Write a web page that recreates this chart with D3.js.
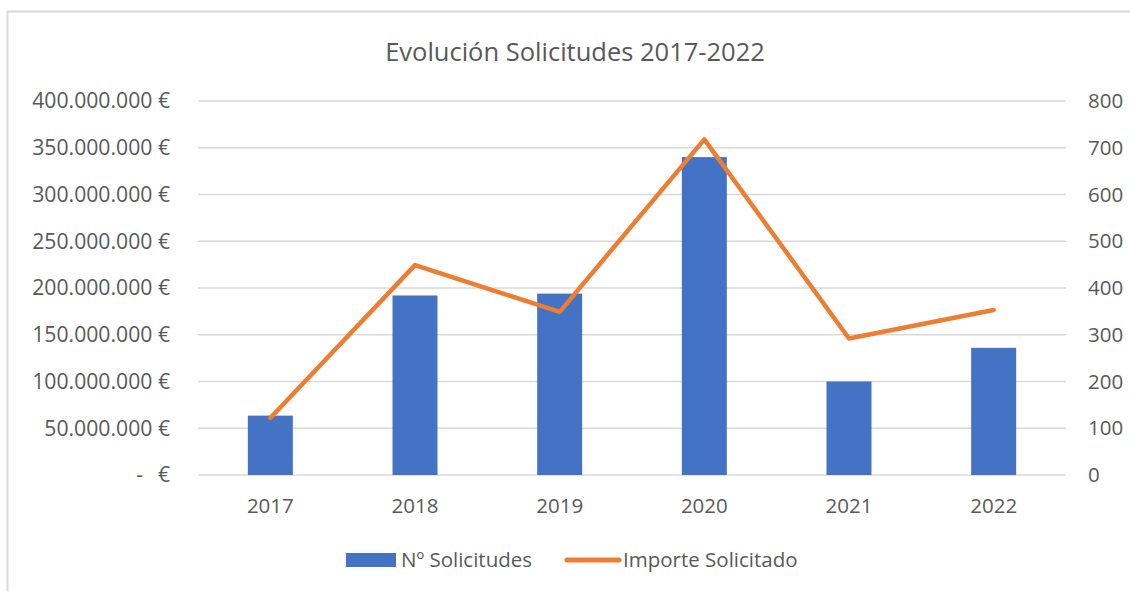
<!DOCTYPE html>
<html>
<head>
<meta charset="utf-8">
<script src="https://cdn.jsdelivr.net/npm/d3@7"></script>
<style>
  html, body { margin: 0; padding: 0; background: #ffffff; }
  svg { display: block; }
  text { font-family: "Open Sans", "Noto Sans", sans-serif; fill: #595959; }
</style>
</head>
<body>
<script>
// ---- data ----
const years = ["2017", "2018", "2019", "2020", "2021", "2022"];
const solicitudes = [127, 384, 388, 680, 200, 272];             // Nº Solicitudes (right axis)
const importe = [61e6, 224.5e6, 174.5e6, 359e6, 146e6, 176.5e6]; // Importe Solicitado (left axis, €)
const leftTicks = [0, 50e6, 100e6, 150e6, 200e6, 250e6, 300e6, 350e6, 400e6];
const rightTicks = [0, 100, 200, 300, 400, 500, 600, 700, 800];
const title = "Evolución Solicitudes 2017-2022";
const seriesNames = ["Nº Solicitudes", "Importe Solicitado"];

const W = 1130, H = 591;
const plot = { left: 198, right: 1066, top: 101, bottom: 475 };
const blue = "#4472C4", orange = "#ED7D31", grid = "#D9D9D9";

const svg = d3.select("body").append("svg").attr("width", W).attr("height", H);

// chart frame
svg.append("rect")
  .attr("x", 7.5).attr("y", 11.5)
  .attr("width", W + 20).attr("height", H + 20)
  .attr("fill", "#fff").attr("stroke", grid).attr("stroke-width", 2);

// title
svg.append("text")
  .attr("x", 575).attr("y", 61)
  .attr("text-anchor", "middle")
  .style("font-size", "25.5px")
  .text(title);

const x = d3.scaleBand().domain(years)
  .range([plot.left, plot.right])
  .paddingInner(0.689).paddingOuter(0.3445);
const yL = d3.scaleLinear().domain([0, 400e6]).range([plot.bottom, plot.top]);
const yR = d3.scaleLinear().domain([0, 800]).range([plot.bottom, plot.top]);

// gridlines
svg.append("g").selectAll("line").data(leftTicks).join("line")
  .attr("x1", plot.left).attr("x2", plot.right)
  .attr("y1", d => yL(d)).attr("y2", d => yL(d))
  .attr("stroke", grid).attr("stroke-width", 1.5);

// left axis labels
const fmt = v => {
  const s = Math.round(v).toString().replace(/\B(?=(\d{3})+(?!\d))/g, ".");
  return s + " €";
};
const gl = svg.append("g").style("font-size", "21.2px");
gl.selectAll("text.lt").data(leftTicks.filter(d => d > 0)).join("text")
  .attr("class", "lt")
  .attr("x", 170).attr("y", d => yL(d)).attr("dy", "0.35em")
  .attr("text-anchor", "end")
  .text(fmt);
// zero label "-  €" (accounting format)
gl.append("text").attr("x", 170).attr("y", yL(0)).attr("dy", "0.35em")
  .attr("text-anchor", "end").text("€");
gl.append("text").attr("x", 143).attr("y", yL(0)).attr("dy", "0.35em")
  .attr("text-anchor", "end").text("-");

// right axis labels
svg.append("g").style("font-size", "20.5px")
  .selectAll("text").data(rightTicks).join("text")
  .attr("x", 1088).attr("y", d => yR(d)).attr("dy", "0.35em")
  .attr("text-anchor", "start")
  .text(d => d);

// x axis labels
svg.append("g").style("font-size", "20.5px")
  .selectAll("text").data(years).join("text")
  .attr("x", d => x(d) + x.bandwidth() / 2).attr("y", 506).attr("dy", "0.35em")
  .attr("text-anchor", "middle")
  .text(d => d);

// bars
svg.append("g").selectAll("rect").data(years).join("rect")
  .attr("x", d => x(d))
  .attr("width", x.bandwidth())
  .attr("y", (d, i) => yR(solicitudes[i]))
  .attr("height", (d, i) => yR(0) - yR(solicitudes[i]))
  .attr("fill", blue);

// line
const line = d3.line()
  .x((d, i) => x(years[i]) + x.bandwidth() / 2)
  .y(d => yL(d));
svg.append("path").datum(importe)
  .attr("d", line)
  .attr("fill", "none").attr("stroke", orange)
  .attr("stroke-width", 4.5)
  .attr("stroke-linejoin", "round").attr("stroke-linecap", "round");

// legend
const lg = svg.append("g").style("font-size", "20.5px");
lg.append("rect").attr("x", 346).attr("y", 553).attr("width", 50).attr("height", 14).attr("fill", blue);
lg.append("text").attr("x", 401).attr("y", 560).attr("dy", "0.35em").text(seriesNames[0]);
lg.append("line").attr("x1", 567).attr("x2", 619).attr("y1", 560).attr("y2", 560)
  .attr("stroke", orange).attr("stroke-width", 5).attr("stroke-linecap", "round");
lg.append("text").attr("x", 623).attr("y", 560).attr("dy", "0.35em").text(seriesNames[1]);
</script>
</body>
</html>
